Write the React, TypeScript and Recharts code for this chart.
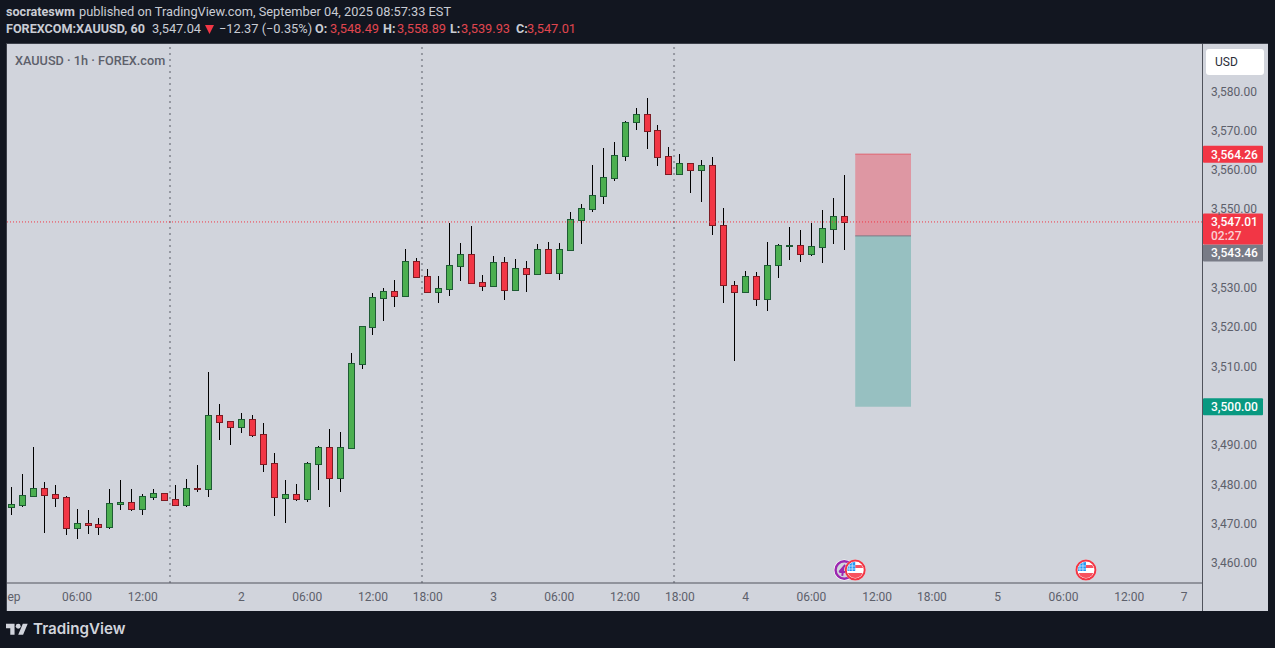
import React from "react";
import { ComposedChart, Bar, XAxis, YAxis, ReferenceLine, ReferenceArea, ReferenceDot } from "recharts";

const opens = [3474.56,3475.07,3477.36,3479.23,3477.70,3476.93,3469.22,3470.32,3470.07,3469.47,3475.32,3475.66,3474.05,3477.10,3477.95,3476.43,3475.07,3479.31,3479.14,3497.80,3496.27,3494.92,3496.78,3492.97,3485.59,3476.85,3477.70,3476.60,3485.50,3489.66,3481.94,3489.58,3510.95,3520.36,3527.74,3529.35,3528.25,3536.99,3533.17,3529.27,3530.03,3535.89,3538.77,3531.64,3530.80,3536.73,3529.78,3535.21,3533.85,3540.04,3534.10,3539.96,3547.59,3550.39,3553.70,3558.28,3563.88,3572.36,3574.39,3570.32,3563.71,3559.30,3561.93,3560.31,3561.42,3546.15,3530.88,3529.10,3533.17,3527.32,3535.97,3540.97,3541.06,3538.77,3540.72,3545.30,3548.49];
const highs = [3479.56,3482.79,3489.66,3480.84,3479.99,3477.27,3473.97,3473.71,3471.68,3478.97,3481.26,3478.97,3477.70,3478.97,3477.95,3479.99,3481.52,3485.08,3508.74,3500.60,3496.27,3498.31,3497.80,3495.76,3488.13,3481.26,3480.24,3485.84,3489.91,3494.24,3493.48,3513.58,3520.45,3528.85,3530.12,3532.24,3540.04,3537.75,3534.95,3533.26,3546.66,3541.57,3545.89,3533.43,3538.26,3538.01,3537.50,3536.99,3541.31,3541.82,3541.57,3549.46,3551.49,3561.42,3565.74,3567.27,3572.61,3575.92,3578.47,3571.59,3566.00,3564.22,3561.93,3562.69,3563.45,3550.47,3531.90,3534.44,3534.19,3541.82,3541.31,3545.64,3544.88,3546.66,3549.97,3553.02,3558.89];
const lows = [3472.44,3474.56,3477.10,3467.94,3474.56,3467.44,3466.42,3467.69,3467.44,3468.96,3473.80,3473.54,3472.52,3476.34,3476.00,3475.07,3474.56,3478.29,3477.10,3491.61,3490.34,3493.39,3492.37,3483.47,3472.27,3470.49,3476.09,3475.75,3478.80,3474.48,3478.29,3489.58,3509.68,3518.24,3521.81,3525.37,3528.25,3533.09,3529.27,3526.39,3528.17,3531.98,3531.22,3529.44,3530.80,3527.15,3529.78,3529.18,3533.85,3534.10,3532.24,3539.96,3541.48,3549.63,3551.66,3557.51,3562.60,3570.41,3565.57,3561.25,3558.96,3559.30,3554.38,3552.09,3543.69,3526.38,3511.63,3529.10,3525.62,3524.35,3532.75,3537.33,3536.82,3538.43,3536.65,3541.40,3539.93];
const closes = [3475.15,3477.44,3479.23,3477.61,3476.85,3469.22,3470.32,3469.98,3469.47,3475.41,3475.66,3474.05,3477.19,3477.95,3476.34,3475.07,3479.23,3479.06,3497.80,3496.19,3494.92,3496.78,3492.88,3485.50,3476.93,3477.70,3476.60,3485.59,3489.66,3481.94,3489.66,3511.03,3520.45,3527.83,3529.35,3528.25,3536.99,3533.09,3529.27,3530.12,3535.97,3538.77,3531.56,3530.80,3536.73,3529.78,3535.21,3533.85,3540.04,3534.10,3540.04,3547.68,3550.47,3553.78,3558.36,3563.96,3572.36,3574.39,3570.24,3563.62,3559.30,3561.93,3560.31,3561.42,3546.15,3530.88,3529.10,3533.17,3527.32,3535.97,3541.06,3541.06,3538.77,3540.81,3545.39,3548.44,3547.01];

const priceTicks = [3460,3470,3480,3490,3510,3520,3530,3550,3560,3570,3580];
const timeTicks = [0.25,6,12,21,27,33,38,44,50,56,61,67,73,79,84,90,96,102,107];
const timeLabels = ["ep","06:00","12:00","2","06:00","12:00","18:00","3","06:00","12:00","18:00","4","06:00","12:00","18:00","5","06:00","12:00","7"];
const sessionBreaks = [14.48,37.47,60.47];
const eventMarks = [
  { index: 76, kind: "ring" },
  { index: 77, kind: "flag" },
  { index: 98.05, kind: "flag" },
];
const stopPrice = 3564.26;
const entryPrice = 3543.46;
const targetPrice = 3500;
const lastPrice = 3547.01;
const boxStart = 77;
const boxEnd = 82.09;

const rows = opens.map((o, i) => ({
  i, open: o, high: highs[i], low: lows[i], close: closes[i], range: [lows[i], highs[i]],
}));

const FONT = "Roboto, sans-serif";
const UP = "#4caf50", UP_EDGE = "#1e5b34", DOWN = "#f23645", DOWN_EDGE = "#7d1c24";

function Candle(props: any) {
  const { x, y, width, height, payload } = props;
  const c = Math.floor(x + width / 2) + 0.5;
  const ppu = height / (payload.high - payload.low);
  const py = (p: number) => y + (payload.high - p) * ppu;
  const up = payload.close >= payload.open;
  const top = Math.round(py(Math.max(payload.open, payload.close)));
  const bot = Math.round(py(Math.min(payload.open, payload.close)));
  const h = Math.max(bot - top, 1);
  return (
    <g>
      <line x1={c} x2={c} y1={Math.round(y)} y2={Math.round(y + height)} stroke="#000" strokeWidth={1} />
      <rect x={c - 3} y={top + 0.5} width={6} height={h} fill={up ? UP : DOWN} stroke={up ? UP_EDGE : DOWN_EDGE} strokeWidth={1} />
    </g>
  );
}

function PriceTag(props: any) {
  const { viewBox, bg, text, sub, dy = 0 } = props;
  const left = viewBox.x + viewBox.width + 1;
  const cy = viewBox.y + dy;
  const tall = !!sub;
  return (
    <g fontFamily={FONT} fontSize={12} fontWeight={500}>
      <rect x={left} y={cy - 8.5} width={60} height={tall ? 31 : 17} rx={1} fill={bg} />
      <text x={left + 8} y={cy + 4.5} fill="#fff">{text}</text>
      {tall ? <text x={left + 8} y={cy + 18.5} fill="#fbd0d4" >{sub}</text> : null}
    </g>
  );
}

function EventIcon(props: any) {
  const { cx, cy, kind, id } = props;
  if (kind === "ring") {
    return (
      <g>
        <circle cx={cx} cy={cy} r={10.5} fill="#fff" />
        <circle cx={cx} cy={cy} r={8.7} fill="#d1d4dc" stroke="#9c27b0" strokeWidth={2.4} />
        <path d={`M${cx - 5} ${cy + 2}L${cx + 1} ${cy - 5}M${cx - 5} ${cy + 2}H${cx + 1}M${cx - 1} ${cy - 2}L${cx - 2} ${cy + 6}`} fill="none" stroke="#9c27b0" strokeWidth={2} />
      </g>
    );
  }
  return (
    <g>
      <clipPath id={id}><circle cx={cx} cy={cy} r={8} /></clipPath>
      <circle cx={cx} cy={cy} r={10.5} fill="#fff" />
      <circle cx={cx} cy={cy} r={9.5} fill="#fff" stroke="#f23645" strokeWidth={2} />
      <g clipPath={`url(#${id})`}>
        <rect x={cx - 8} y={cy - 8} width={16} height={16} fill="#fff" />
        <rect x={cx} y={cy - 5} width={8} height={3} fill="#f7525f" />
        <rect x={cx - 8} y={cy + 3} width={16} height={5} fill="#f7525f" />
        <rect x={cx - 8} y={cy - 8} width={8} height={9} fill="#2196f3" />
        <path d={`M${cx - 6} ${cy - 7}V${cy + 1}M${cx - 3} ${cy - 7}V${cy + 1}M${cx - 8} ${cy - 4}H${cx}M${cx - 8} ${cy - 1}H${cx}`} stroke="#cfe8fb" strokeWidth={0.8} />
      </g>
    </g>
  );
}

const headerBase: React.CSSProperties = { position: "absolute", fontFamily: FONT, lineHeight: "16px", color: "#c9ccd4", whiteSpace: "nowrap" };
const red = "#e0464f";

function Span({ x, y, bold, color, children }: any) {
  return <span style={{ ...headerBase, left: x, top: y, fontSize: bold ? 12.6 : 12.8, fontWeight: bold ? 700 : 400, color: color || headerBase.color }}>{children}</span>;
}

export default function App() {
  return (
    <div style={{ position: "absolute", left: 0, top: 0, width: 1275, height: 648, background: "#121620", overflow: "hidden" }}>
      <Span x={6} y={4} bold>socrateswm</Span>
      <Span x={79} y={4}>published on TradingView.com, September 04, 2025 08:57:33 EST</Span>
      <Span x={6} y={21} bold>FOREXCOM:XAUUSD, 60</Span>
      <Span x={152} y={21}>3,547.04</Span>
      <svg style={{ position: "absolute", left: 205, top: 25 }} width={9} height={9}><path d="M0 0H9L4.5 9Z" fill={DOWN} /></svg>
      <Span x={219} y={21}>−12.37 (−0.35%)</Span>
      <Span x={315} y={21} bold>O:</Span><Span x={330} y={21} color={red}>3,548.49</Span>
      <Span x={383} y={21} bold>H:</Span><Span x={397} y={21} color={red}>3,558.89</Span>
      <Span x={450} y={21} bold>L:</Span><Span x={461} y={21} color={red}>3,539.93</Span>
      <Span x={516} y={21} bold>C:</Span><Span x={527} y={21} color={red}>3,547.01</Span>

      <div style={{ position: "absolute", left: 6, top: 43, width: 1262, height: 568, background: "#d1d4dc", borderTop: "1px solid #3b3f49", borderLeft: "1px solid #3b3f49", boxSizing: "border-box" }} />
      <div style={{ position: "absolute", left: 1202, top: 44, width: 1, height: 567, background: "#50535c" }} />

      <div style={{ position: "absolute", left: 0, top: 0 }}>
        <ComposedChart width={1275} height={648} data={rows} margin={{ top: 44, right: 0, bottom: 37, left: 7 }}>
          <XAxis
            dataKey="i"
            type="number"
            domain={[-0.392, 108.64]}
            allowDataOverflow
            ticks={timeTicks}
            interval={0}
            tickFormatter={(v: number) => timeLabels[timeTicks.indexOf(v)]}
            tickLine={false}
            axisLine={{ stroke: "#50535c" }}
            tick={{ fontFamily: FONT, fontSize: 12, fill: "#5d606b" }}
            height={28}
            tickMargin={3}
          />
          <YAxis
            orientation="right"
            type="number"
            domain={[3455.14, 3592.29]}
            allowDataOverflow
            ticks={priceTicks}
            interval={0}
            tickFormatter={(v: number) => v.toLocaleString("en-US", { minimumFractionDigits: 2 })}
            tickLine={false}
            axisLine={false}
            tick={{ fontFamily: FONT, fontSize: 12, fill: "#5d606b", dy: -1 }}
            width={73}
            tickMargin={3}
          />
          {sessionBreaks.map((x) => (
            <ReferenceLine key={x} x={x} stroke="#9598a1" strokeWidth={2} strokeDasharray="2 4" />
          ))}
          <ReferenceArea x1={boxStart} x2={boxEnd} y1={entryPrice} y2={stopPrice} fill="#de97a3" fillOpacity={1} stroke="none" />
          <ReferenceArea x1={boxStart} x2={boxEnd} y1={targetPrice} y2={entryPrice} fill="#97c0c1" fillOpacity={1} stroke="none" />
          <ReferenceLine segment={[{ x: boxStart, y: stopPrice }, { x: boxEnd, y: stopPrice }]} stroke="#e0606e" />
          <ReferenceLine segment={[{ x: boxStart, y: entryPrice }, { x: boxEnd, y: entryPrice }]} stroke="#787b86" />
          <ReferenceLine y={lastPrice} stroke="#f23645" strokeDasharray="1 2" />
          <Bar dataKey="range" barSize={7} shape={<Candle />} isAnimationActive={false} />
          <ReferenceLine y={stopPrice} stroke="none" label={<PriceTag bg={DOWN} text="3,564.26" />} />
          <ReferenceLine y={targetPrice} stroke="none" label={<PriceTag bg="#089981" text="3,500.00" />} />
          <ReferenceLine y={entryPrice} stroke="none" label={<PriceTag bg="#787b86" text="3,543.46" dy={17} />} />
          <ReferenceLine y={lastPrice} stroke="none" label={<PriceTag bg={DOWN} text="3,547.01" sub="02:27" />} />
          {eventMarks.map((e, k) => (
            <ReferenceDot key={k} x={e.index} y={3458.45} r={10} shape={<EventIcon kind={e.kind} id={`fc${k}`} />} />
          ))}
        </ComposedChart>
      </div>

      <div style={{ position: "absolute", left: 15, top: 53, fontFamily: FONT, fontSize: 12.7, fontWeight: 500, color: "#5d606b" }}>XAUUSD · 1h · FOREX.com</div>
      <div style={{ position: "absolute", left: 1206, top: 49, width: 58, height: 26, background: "#fff", borderRadius: 3, fontFamily: FONT, fontSize: 12, lineHeight: "26px", color: "#2a2e39", paddingLeft: 9, boxSizing: "border-box" }}>USD</div>

      <svg style={{ position: "absolute", left: 6, top: 623 }} width={22} height={13} viewBox="0 4 36 18.5">
        <path d="M14 22H7V11H0V4h14v18zM28 22h-8l7.5-18h8L28 22z" fill="#d1d4dc" />
        <circle cx={20} cy={8} r={4} fill="#d1d4dc" />
      </svg>
      <div style={{ position: "absolute", left: 33, top: 619, fontFamily: "Inter, sans-serif", fontSize: 15.2, fontWeight: 600, lineHeight: "20px", color: "#d1d4dc" }}>TradingView</div>
    </div>
  );
}
